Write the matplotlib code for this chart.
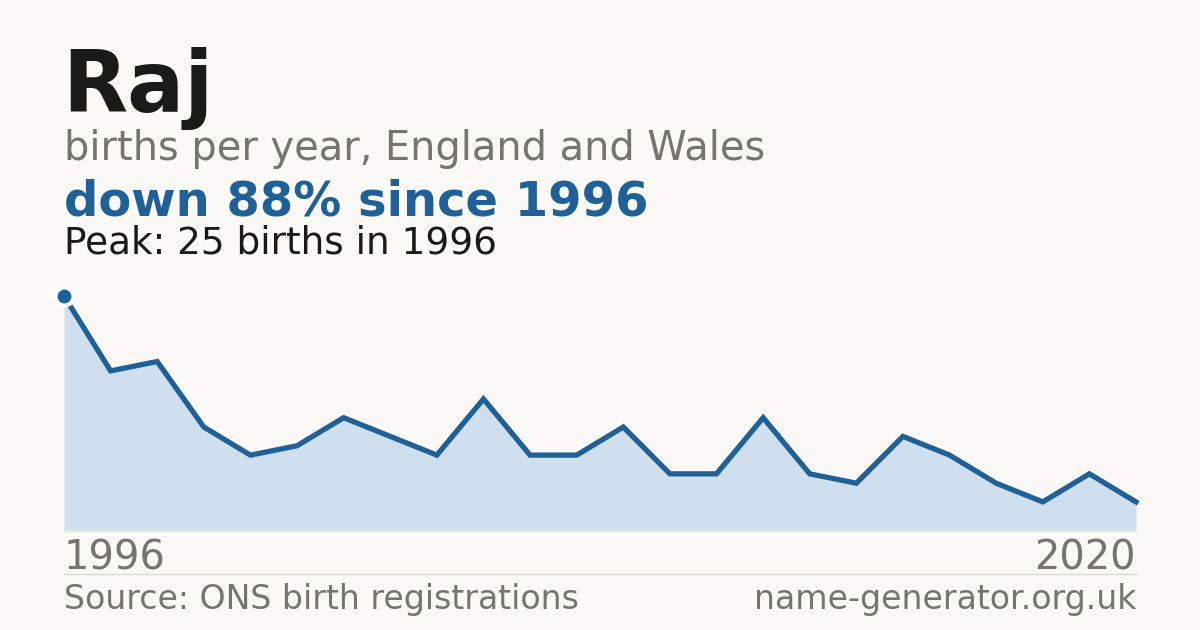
import os
import matplotlib
matplotlib.use("Agg")
import matplotlib.pyplot as plt
from matplotlib.lines import Line2D
from matplotlib.font_manager import FontProperties

# data (births per year)
births = [25, 17, 18, 11, 8, 9, 12, 10, 8, 14, 8, 8,
          11, 6, 6, 12, 6, 5, 10, 8, 5, 3, 6, 3]
first_year = "1996"
last_year = "2020"

name = "Raj"
subtitle = "births per year, England and Wales"
headline = "down 88% since 1996"
peak_note = "Peak: 25 births in 1996"
source = "Source: ONS birth registrations"
site = "name-generator.org.uk"

bg = "#faf9f5"
blue = "#1f6096"
fill = "#cfdfee"
grey = "#77736d"
dark = "#1a1a1a"

# use the DejaVu files bundled with matplotlib
ttf_dir = os.path.join(matplotlib.get_data_path(), "fonts", "ttf")
regular = FontProperties(fname=os.path.join(ttf_dir, "DejaVuSans.ttf"))
bold = FontProperties(fname=os.path.join(ttf_dir, "DejaVuSans-Bold.ttf"))

W, H = 1200, 630
fig = plt.figure(figsize=(12, 6.3), dpi=100, facecolor=bg)

def fx(px):
    return px / W

def fy(py):
    return 1 - py / H

# chart area: x 64..1136, y 0 at 530 px, 25 at 296 px
ax = fig.add_axes([fx(64), fy(530), fx(1136 - 64), (530 - 296) / H])
ax.set_facecolor("none")
xs = list(range(len(births)))
ax.fill_between(xs, births, 0, color=fill, lw=0)
ax.plot(xs, births, color=blue, lw=3.8, solid_joinstyle="miter", clip_on=False)
ax.plot([xs[0]], [births[0]], "o", ms=13, color=blue, mec="white", mew=3, clip_on=False, zorder=5)
ax.set_xlim(0, len(births) - 1)
ax.set_ylim(0, max(births))
ax.axis("off")

# baseline and separator
fig.add_artist(Line2D([fx(64), fx(1136)], [fy(530.5), fy(530.5)], color="#e6e1d9", lw=1))
fig.add_artist(Line2D([fx(64), fx(1136)], [fy(574), fy(574)], color="#dcd9d3", lw=1))

def put(px, py, s, size, font, color, ha="left"):
    fp = font.copy()
    fp.set_size(size)
    fig.text(fx(px), fy(py), s, fontproperties=fp, color=color, va="baseline", ha=ha)

put(62, 112, name, 61, bold, dark)
put(64, 160, subtitle, 28.7, regular, grey)
put(64, 215, headline, 34.6, bold, blue)
put(64, 254, peak_note, 26.9, regular, dark)

put(64, 570, first_year, 28.8, regular, grey)
put(1136, 570, last_year, 28.8, regular, grey, ha="right")

put(64, 609, source, 23.9, regular, grey)
put(1136, 609, site, 23.9, regular, grey, ha="right")

fig.savefig("out.png", dpi=100, facecolor=bg)
